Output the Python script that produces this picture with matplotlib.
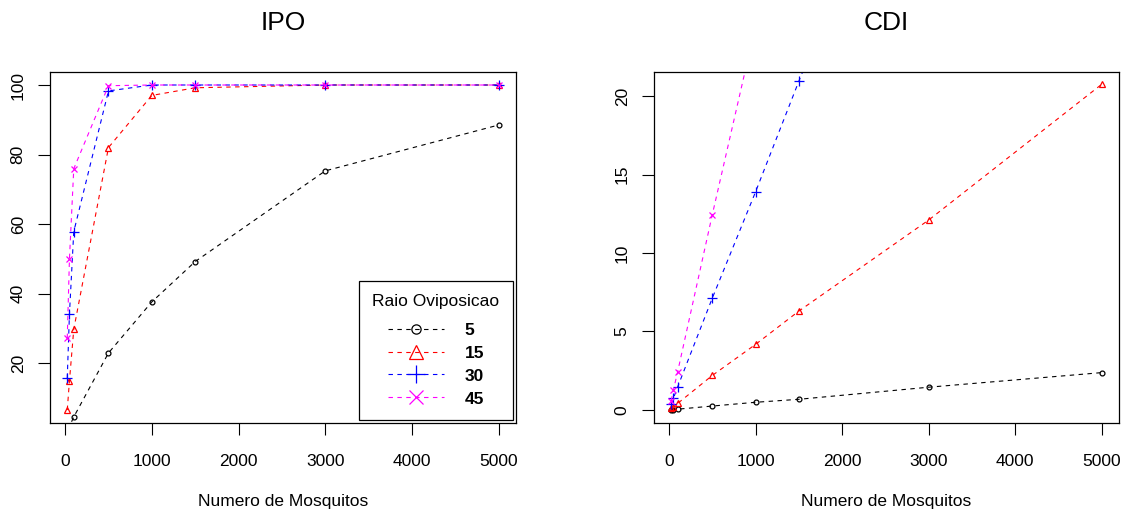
import matplotlib
matplotlib.use('Agg')
import matplotlib.pyplot as plt

plt.rcParams['font.family'] = ['Liberation Sans', 'DejaVu Sans']

# numero de mosquitos simulados
mosquitos = [25, 50, 100, 500, 1000, 1500, 3000, 5000]

# raio de oviposicao
raios = ['5', '15', '30', '45']

# IPO por raio
ipo_5 = [0.9, 1.8, 4.5, 22.9, 37.6, 49.2, 75.3, 88.5]
ipo_15 = [6.5, 14.8, 29.7, 82.0, 97.0, 99.2, 100, 100]
ipo_30 = [15.7, 34.0, 57.8, 98.3, 100, 100, 100, 100]
ipo_45 = [27.2, 49.8, 75.9, 99.8, 100, 100, 100, 100]

# CDI por raio
cdi_5 = [0.01, 0.02, 0.05, 0.25, 0.49, 0.68, 1.45, 2.38]
cdi_15 = [0.10, 0.20, 0.42, 2.20, 4.18, 6.30, 12.1, 20.75]
cdi_30 = [0.35, 0.74, 1.48, 7.13, 13.9, 20.95, 41.5, 68.9]
cdi_45 = [0.60, 1.27, 2.45, 12.45, 24.5, 36.5, 72.0, 119.0]

cores = ['black', 'red', 'blue', 'magenta']
marcadores = ['o', '^', '+', 'x']
tamanhos = [3.5, 5, 6.5, 5]


def desenha(ax, series, titulo, ylim, yticks):
    for serie, cor, m, ms, rotulo in zip(series, cores, marcadores, tamanhos, raios):
        ax.plot(mosquitos, serie, color=cor, marker=m, markersize=ms,
                markerfacecolor='none', markeredgewidth=0.9,
                linestyle=(0, (4, 4)), linewidth=0.8, label=rotulo)
    ax.set_xlim(-174, 5199)
    ax.set_ylim(*ylim)
    ax.set_xticks([0, 1000, 2000, 3000, 4000, 5000])
    ax.set_yticks(yticks)
    ax.set_title(titulo, fontsize=19, pad=30)
    ax.set_xlabel('Numero de Mosquitos', fontsize=12.5, labelpad=18)
    ax.tick_params(axis='x', length=8.5, width=0.8, pad=14, labelsize=12.5)
    ax.tick_params(axis='y', length=8.5, width=0.8, pad=9, labelsize=12.5)
    for lab in ax.get_yticklabels():
        lab.set_rotation(90)
        lab.set_va('center')
    for s in ax.spines.values():
        s.set_linewidth(0.9)


fig = plt.figure(figsize=(11.29, 5.16), dpi=100)
ax1 = fig.add_axes([50 / 1129, 1 - 423 / 516, 466 / 1129, 351 / 516])
ax2 = fig.add_axes([654 / 1129, 1 - 423 / 516, 465 / 1129, 351 / 516])

desenha(ax1, [ipo_5, ipo_15, ipo_30, ipo_45], 'IPO', (2.76, 103.74), [20, 40, 60, 80, 100])
desenha(ax2, [cdi_5, cdi_15, cdi_30, cdi_45], 'CDI', (-0.83, 21.53), [0, 5, 10, 15, 20])

leg = ax1.legend(title='Raio Oviposicao', loc='lower right', markerscale=1.9,
                 fontsize=12.5, title_fontsize=12.5, fancybox=False,
                 edgecolor='black', framealpha=1, borderaxespad=0.2,
                 handlelength=3.2, labelspacing=0.45, borderpad=0.75,
                 handletextpad=1.2)
leg._legend_box.sep = 10
leg.get_frame().set_linewidth(0.9)
for t in leg.get_texts():
    t.set_fontweight('bold')

fig.savefig('out.png', dpi=100)
